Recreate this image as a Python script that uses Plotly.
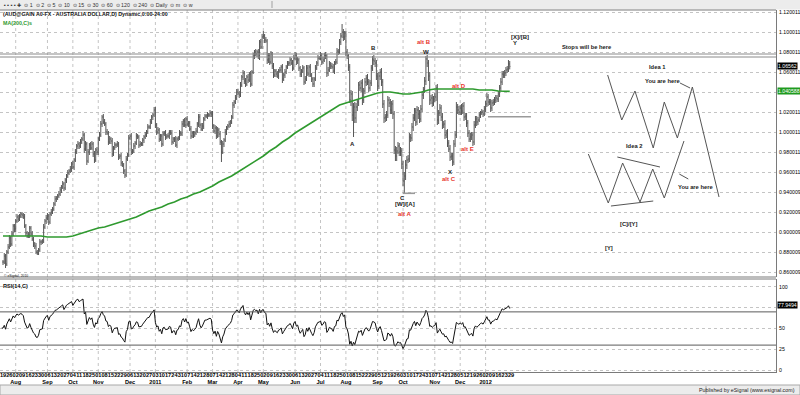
import numpy as np
import pandas as pd
import plotly.graph_objects as go

# ---------------- data ----------------
first_session = "2010-06-28"      # 15 warm-up sessions before the visible window (Jul 19 2010)
n_warmup = 15

# daily closes, in 1/10000 (pips)
close_pips = [
    8690, 8490, 8480, 8400, 8440, 8430, 8560, 8640, 8720, 8760, 8700, 8800, 8820, 8780, 8700,
    8700, 8760, 8680, 8800, 8850, 8940, 8880, 8980, 9060, 9030,
    9110, 9150, 9130, 9160, 9180, 9170, 9150, 9060, 8990, 8960,
    8970, 9040, 8980, 8930, 8880, 8860, 8800, 8790, 8820, 8900,
    8900, 8910, 9050, 9110, 9140, 9160, 9100, 9180, 9200, 9230,
    9280, 9330, 9340, 9360, 9380, 9420, 9450, 9480, 9440, 9520,
    9560, 9590, 9610, 9630, 9680, 9650, 9720, 9800, 9860, 9880,
    9860, 9900, 9930, 9970, 9830, 9880, 9710, 9800, 9870, 9840,
    9880, 9780, 9720, 9820, 9800, 9930, 9970, 10080, 10150, 10100,
    10080, 10000, 9990, 9900, 9930, 9910, 9780, 9840, 9870, 9870,
    9880, 9750, 9760, 9690, 9670, 9610, 9570, 9730, 9770, 9940,
    9960, 9800, 9810, 9860, 9890, 9960, 9950, 9870, 9880, 9880,
    9920, 9950, 9970, 10000, 10050, 10050, 10100, 10150, 10170, 10220,
    10070, 10000, 10020, 9930, 9960, 9880, 9980, 9990, 9950, 9960,
    9960, 10000, 9990, 9900, 9930, 9930, 9870, 9930, 9940, 9990,
    9980, 10080, 10110, 10070, 10130, 10080, 10090, 10030, 9960, 9990,
    9970, 9990, 10010, 10080, 10150, 10070, 10030, 10060, 10130, 10160,
    10160, 10170, 10170, 10190, 10180, 10060, 10010, 10040, 9960, 10020,
    9980, 9900, 9800, 9880, 9920, 10000, 10040, 10060, 10080, 10100,
    10150, 10270, 10300, 10340, 10400, 10390, 10370, 10470, 10550, 10590,
    10510, 10480, 10550, 10520, 10580, 10480, 10600, 10760, 10800, 10780,
    10800, 10750, 10900, 10850, 10950, 10960, 10920, 10910, 10720, 10760,
    10700, 10780, 10660, 10570, 10610, 10580, 10560, 10610, 10620, 10650,
    10530, 10570, 10600, 10650, 10680, 10690, 10720, 10690, 10640, 10740,
    10770, 10700, 10720, 10640, 10580, 10610, 10640, 10500, 10530, 10640,
    10580, 10650, 10570, 10530, 10480, 10530, 10640, 10690, 10740, 10740,
    10770, 10700, 10720, 10770, 10760, 10590, 10620, 10680, 10660, 10650,
    10610, 10690, 10700, 10810, 10800, 10900, 10960, 11000, 10950, 10990,
    10800, 10760, 10650, 10320, 10380, 10170, 10250, 10140, 10250, 10300,
    10470, 10440, 10490, 10320, 10410, 10500, 10540, 10500, 10440, 10490,
    10640, 10720, 10710, 10690, 10560, 10460, 10560, 10600, 10500, 10280,
    10140, 10150, 10170, 10320, 10290, 10220, 10280, 10180, 9820, 9760,
    9810, 9860, 9800, 9810, 9680, 9510, 9560, 9670, 9720, 9730,
    9950, 9940, 10050, 10140, 10210, 10100, 10220, 10180, 10130, 10230,
    10370, 10420, 10510, 10730, 10690, 10560, 10320, 10340, 10290, 10330,
    10350, 10440, 10120, 10190, 10240, 10150, 10070, 10080, 9970, 9990,
    9890, 9830, 9750, 9760, 9700, 9880, 9970, 10250, 10220, 10200,
    10240, 10210, 10260, 10150, 10160, 10090, 9990, 9930, 9950, 9970,
    9900, 10070, 10130, 10100, 10120, 10170, 10190, 10200, 10180, 10230,
    10280, 10350, 10300, 10300, 10240, 10290, 10300, 10320, 10340, 10330,
    10380, 10440, 10500, 10580, 10570, 10590, 10620, 10630, 10680, 10656,
]
# extension of each bar beyond its body, in units of 0.001
up_ext = [
    2, 3, 2, 2, 3, 2, 3, 2, 3, 2, 3, 2, 2, 3, 2,
    2, 3, 2, 2, 3, 3, 2, 3, 2, 2, 2, 3, 2, 2, 2, 2, 2, 3, 2, 2,
    3, 2, 2, 3, 2, 2, 3, 2, 2, 3, 2, 2, 3, 2, 3, 3, 2, 2, 3, 2,
    2, 3, 2, 2, 3, 3, 2, 3, 2, 2, 2, 3, 2, 3, 2, 3, 2, 3, 2, 3,
    2, 3, 2, 4, 2, 3, 2, 3, 2, 3, 3, 2, 3, 2, 3, 2, 3, 3, 2, 3,
    3, 2, 3, 2, 3, 2, 3, 2, 3, 2, 3, 2, 2, 3, 2, 2, 2, 3, 2, 3,
    2, 3, 2, 3, 2, 3, 2, 2, 3, 2, 2, 2, 3, 2, 3, 2, 3, 2, 2, 3,
    3, 2, 3, 2, 2, 2, 3, 2, 3, 2, 3, 2, 2, 3, 2, 2, 3, 2, 2, 3,
    2, 3, 2, 3, 2, 3, 2, 2, 3, 2, 2, 2, 3, 2, 3, 3, 2, 3, 2, 2,
    2, 3, 2, 3, 2, 3, 2, 3, 2, 3, 2, 3, 2, 3, 2, 3, 2, 2, 3, 2,
    2, 3, 2, 3, 3, 3, 2, 3, 2, 3, 2, 3, 2, 3, 2, 3, 2, 3, 2, 3,
    2, 3, 2, 3, 3, 5, 2, 3, 2, 3, 3, 3, 2, 3, 2, 2, 3, 2, 3, 2,
    3, 2, 3, 2, 3, 2, 3, 2, 3, 3, 3, 2, 3, 2, 2, 2, 3, 2, 3, 3,
    3, 2, 3, 2, 2, 2, 3, 2, 3, 2, 3, 2, 3, 2, 3, 2, 3, 3, 2, 3,
    3, 2, 3, 3, 2, 3, 3, 8, 3, 2, 2, 3, 2, 3, 4, 3, 4, 5, 4, 3,
    3, 4, 3, 4, 3, 4, 3, 4, 3, 3, 3, 4, 5, 3, 3, 3, 4, 3, 4, 3,
    4, 3, 4, 4, 3, 4, 3, 4, 3, 4, 4, 4, 3, 4, 3, 3, 4, 5, 4, 4,
    4, 3, 4, 4, 3, 3, 4, 3, 4, 4, 4, 3, 4, 3, 4, 3, 4, 3, 4, 3,
    4, 3, 4, 3, 4, 3, 4, 3, 4, 3, 4, 3, 4, 3, 3, 4, 4, 5, 3, 4,
    3, 4, 3, 4, 3, 3, 3, 3, 4, 3, 3, 4, 3, 3, 3, 3, 2, 3, 2, 3,
    3, 4, 3, 3, 3, 3, 3, 3, 3, 3, 3, 3, 4, 3, 3, 3, 3, 3, 4, 3,
]
dn_ext = [
    3, 4, 2, 3, 2, 2, 2, 3, 2, 3, 2, 3, 2, 2, 3,
    3, 2, 4, 2, 2, 2, 3, 2, 2, 3, 3, 2, 3, 2, 2, 3, 2, 2, 3, 2,
    2, 3, 2, 2, 3, 3, 2, 2, 2, 2, 3, 2, 2, 2, 3, 2, 3, 2, 2, 2,
    2, 2, 3, 2, 2, 2, 3, 2, 3, 2, 3, 2, 2, 2, 3, 2, 3, 2, 2, 3,
    3, 2, 2, 2, 4, 2, 4, 2, 3, 2, 2, 3, 3, 2, 3, 3, 2, 2, 3, 2,
    2, 3, 2, 3, 2, 3, 3, 2, 2, 3, 2, 3, 2, 3, 2, 3, 3, 2, 2, 2,
    2, 3, 2, 2, 3, 2, 2, 3, 2, 2, 2, 3, 2, 2, 2, 2, 2, 2, 3, 2,
    3, 3, 2, 3, 2, 3, 2, 2, 3, 2, 2, 3, 2, 3, 2, 3, 2, 3, 2, 2,
    2, 2, 3, 2, 3, 2, 3, 2, 3, 2, 3, 2, 2, 2, 3, 3, 2, 2, 3, 2,
    2, 3, 2, 2, 3, 3, 2, 3, 3, 2, 3, 3, 10, 2, 3, 2, 3, 2, 2, 3,
    2, 2, 3, 2, 2, 2, 3, 2, 2, 3, 3, 3, 2, 3, 2, 3, 2, 2, 3, 2,
    3, 2, 3, 2, 2, 2, 3, 2, 4, 3, 3, 2, 3, 3, 2, 3, 2, 3, 2, 3,
    4, 2, 3, 2, 2, 2, 3, 2, 3, 2, 2, 3, 2, 3, 3, 3, 2, 3, 2, 2,
    2, 3, 2, 3, 3, 3, 2, 2, 3, 2, 2, 3, 2, 2, 3, 4, 3, 2, 3, 2,
    2, 3, 2, 2, 3, 2, 3, 2, 4, 3, 4, 3, 4, 3, 6, 6, 22, 5, 5, 4,
    4, 3, 4, 5, 3, 3, 4, 3, 4, 3, 3, 3, 4, 4, 4, 5, 3, 4, 4, 4,
    5, 4, 4, 3, 4, 4, 4, 5, 4, 5, 5, 3, 4, 4, 5, 5, 12, 4, 4, 3,
    3, 4, 3, 4, 3, 4, 3, 5, 4, 3, 3, 4, 3, 4, 4, 5, 5, 4, 4, 3,
    3, 4, 5, 4, 3, 4, 4, 3, 4, 3, 4, 3, 4, 3, 4, 3, 3, 3, 4, 3,
    3, 4, 3, 4, 3, 4, 4, 3, 3, 3, 4, 3, 3, 4, 3, 2, 3, 2, 3, 2,
    3, 3, 4, 3, 4, 3, 3, 3, 3, 3, 3, 3, 3, 3, 3, 3, 3, 3, 3, 3,
]
# 200-day moving average, read once a week (session index) plus the last session
ma200_session = list(range(0, 400, 5)) + [399]
ma200 = [
    0.896, 0.896, 0.896, 0.896, 0.896, 0.896, 0.896, 0.895, 0.895, 0.895,
    0.895, 0.896, 0.898, 0.900, 0.902, 0.904, 0.905, 0.907, 0.909, 0.911,
    0.913, 0.915, 0.918, 0.921, 0.923, 0.925, 0.928, 0.930, 0.933, 0.935,
    0.938, 0.940, 0.943, 0.946, 0.950, 0.953, 0.956, 0.960, 0.964, 0.968,
    0.972, 0.976, 0.981, 0.985, 0.990, 0.994, 0.999, 1.003, 1.007, 1.011,
    1.015, 1.019, 1.023, 1.027, 1.029, 1.031, 1.033, 1.035, 1.037, 1.039,
    1.040, 1.040, 1.039, 1.038, 1.038, 1.039, 1.040, 1.042, 1.043, 1.043,
    1.043, 1.043, 1.043, 1.043, 1.043, 1.042, 1.042, 1.042, 1.041, 1.041,
    1.0406,
]
tick_labels = [
    "19", "26",
    "02", "09", "16", "23", "30", "06", "13", "20", "27", "04", "11", "18", "25",
    "01", "08", "15", "22", "29", "06", "13", "20", "27",
    "03", "10", "17", "24", "31", "07", "14", "21", "28", "07", "14", "21", "28",
    "04", "11", "18", "25", "02", "09", "16", "23", "30", "06", "13", "20", "27",
    "04", "11", "18", "25", "01", "08", "15", "22", "29", "05", "12", "19", "26",
    "03", "10", "17", "24", "31", "07", "14", "21", "28", "05", "12", "19", "26",
    "02", "09", "16", "23", "29",
]
period_labels = ["Aug", "Sep", "Oct", "Nov", "Dec", "2011", "Feb", "Mar", "Apr", "May",
                 "Jun", "Jul", "Aug", "Sep", "Oct", "Nov", "Dec", "2012"]
price_ticks = [0.86, 0.88, 0.90, 0.92, 0.94, 0.96, 0.98, 1.00, 1.02, 1.04, 1.06, 1.08, 1.10, 1.12]
price_tick_text = ["0.860009", "0.880009", "0.900009", "0.920009", "0.940009", "0.960011",
                   "0.980011", "1.000011", "1.020011", "1.040011", "1.060011", "1.080011",
                   "1.100011", "1.120011"]
rsi_ticks = [0, 25, 50, 75, 100]
rsi_tick_text = ["0", "25", "50", "", "100"]
last_price, last_price_text = 1.0656, "1.06562"
last_ma, last_ma_text = 1.0406, "1.040588"
last_rsi, last_rsi_text = 77.95, "77.9494"
rsi_levels = [70, 30]
stop_level_pair = [1.078, 1.075]

# Elliott-wave labels drawn on the chart: (text, session index, price)
wave_black = [("B", 291.6, 1.0843), ("W", 333.1, 1.0803), ("A", 275.3, 0.9877),
              ("C", 314.7, 0.9343), ("[W]/[A]", 316.5, 0.9277), ("X", 352.0, 0.960),
              ("[X]/[B]", 407.0, 1.0953), ("Y", 403.1, 1.0887)]
wave_red = [("alt B", 331.8, 1.0897), ("alt D", 359.1, 1.046), ("alt E", 365.9, 0.983),
            ("alt C", 351.2, 0.9527), ("alt A", 316.5, 0.9177)]
notes = [("Stops will be here", 459.8, 1.0853), ("Idea 1", 515.4, 1.0653),
         ("You are here", 519.5, 1.0513), ("Idea 2", 496.6, 0.9857),
         ("You are here", 545.1, 0.9447), ("[C]/[Y]", 492.4, 0.9077), ("[Y]", 477.2, 0.8843)]
idea1_path = [(476.1, 1.057), (487.2, 1.012), (497.6, 1.041), (512.0, 0.984),
              (520.7, 1.030), (531.0, 0.994), (542.8, 1.045), (563.8, 0.935)]
idea2_path = [(460.9, 0.978), (476.6, 0.929), (487.9, 0.969), (501.6, 0.930),
              (511.6, 0.963), (520.7, 0.934), (536.2, 0.991)]
drawn_segments = [((483.7, 0.975), (517.3, 0.965)), ((478.7, 0.926), (512.0, 0.931)),
                  ((533.1, 1.049), (541.0, 1.044)), ((532.5, 0.958), (539.6, 0.953))]
gray_levels = [((381.9, 415.7), 1.0153), ((314.7, 324.4), 0.9387)]

# ---------------- build ----------------
FONT = "Liberation Sans, Arial, sans-serif"
sessions = pd.bdate_range(first_session, periods=len(close_pips))
xi = np.arange(len(close_pips)) - n_warmup
c = np.array(close_pips) / 10000.0
o = np.concatenate([[c[0]], c[:-1]])
h = np.maximum(o, c) + np.array(up_ext) / 1000.0
l = np.minimum(o, c) - np.array(dn_ext) / 1000.0

# RSI(14, close), Wilder smoothing
period = 14
delta = np.diff(c)
gain = np.clip(delta, 0, None)
loss = np.clip(-delta, 0, None)
ag, al = gain[:period].mean(), loss[:period].mean()
rsi = np.full(len(c), np.nan)
rsi[period] = 100 - 100 / (1 + ag / al)
for k in range(period, len(delta)):
    ag = (ag * (period - 1) + gain[k]) / period
    al = (al * (period - 1) + loss[k]) / period
    rsi[k + 1] = 100 - 100 / (1 + ag / al)

vis = xi >= 0
fig = go.Figure()
fig.add_trace(go.Ohlc(x=xi[vis], open=o[vis], high=h[vis], low=l[vis], close=c[vis],
                      increasing=dict(line=dict(color="#565656", width=1)),
                      decreasing=dict(line=dict(color="#565656", width=1)),
                      tickwidth=0.5, xaxis="x", yaxis="y", showlegend=False, hoverinfo="skip"))
fig.add_trace(go.Scatter(x=ma200_session, y=ma200, mode="lines",
                         line=dict(color="#2f9a2f", width=1.6), xaxis="x", yaxis="y",
                         showlegend=False, hoverinfo="skip"))
fig.add_trace(go.Scatter(x=xi[period:], y=rsi[period:], mode="lines",
                         line=dict(color="#111111", width=1), xaxis="x2", yaxis="y2",
                         showlegend=False, hoverinfo="skip"))

# tick text: day of each Monday, month/year under the first one of each month
tick_pos = [5 * k for k in range(len(tick_labels))]
tick_text = []
m = 0
for k, lab in enumerate(tick_labels):
    if k > 0 and int(lab) <= 7:
        tick_text.append(lab + "<br>" + period_labels[m])
        m += 1
    else:
        tick_text.append(lab)
month_pos = [p for p, t in zip(tick_pos, tick_text) if "<br>" in t]

W, H = 800, 395
L, R, T, B = 0, 24, 10, 23
PW, PH = W - L - R, H - T - B
def py(ypix):  # pixel row -> paper y
    return (H - B - ypix) / PH
def px(xpix):
    return (xpix - L) / PW

main_dom = [py(277), 1.0]
rsi_dom = [0.0, py(279)]
x_range = [-3 / 1.27, (PW - 3) / 1.27]

axis_font = dict(family=FONT, size=5.2, color="#000000")
fig.update_layout(
    width=W, height=H, margin=dict(l=L, r=R, t=T, b=B, pad=0),
    template="none", paper_bgcolor="white", plot_bgcolor="white",
    font=dict(family=FONT, size=6, color="#000"),
    showlegend=False,
    xaxis=dict(domain=[0, 1], anchor="y", range=x_range, showticklabels=False, ticks="",
               showgrid=False, zeroline=False, showline=False, rangeslider=dict(visible=False),
               automargin=False),
    xaxis2=dict(domain=[0, 1], anchor="y2", range=x_range, matches="x", tickmode="array",
                tickvals=tick_pos, ticktext=tick_text, tickangle=0, ticks="",
                tickfont=dict(family=FONT, size=5.6, color="#000", weight="bold"),
                showgrid=False, zeroline=False, showline=True, linecolor="#7a7a7a",
                linewidth=1, automargin=False, ticklabelstandoff=-3,
                ticklabeloverflow="allow"),
    yaxis=dict(domain=main_dom, anchor="x", side="right", range=[0.855, 1.122],
               tickmode="array", tickvals=price_ticks, ticktext=price_tick_text, ticks="",
               tickfont=axis_font, showgrid=True, gridcolor="#c4c4c4", griddash="dot",
               gridwidth=1, zeroline=False, showline=True, linecolor="#7a7a7a",
               automargin=False, ticklabelstandoff=1),
    yaxis2=dict(domain=rsi_dom, anchor="x2", side="right", range=[-2.4, 109.6],
                tickmode="array", tickvals=rsi_ticks, ticktext=rsi_tick_text, ticks="",
                tickfont=axis_font, showgrid=True, gridcolor="#c4c4c4", griddash="dot",
                gridwidth=1, zeroline=False, showline=True, linecolor="#7a7a7a",
                automargin=False, ticklabelstandoff=1),
)

shapes = []
# monthly vertical grid in both panels
for p in month_pos:
    for dom in (main_dom, rsi_dom):
        shapes.append(dict(type="line", xref="x", yref="paper", x0=p, x1=p, y0=dom[0], y1=dom[1],
                           line=dict(color="#c4c4c4", width=1, dash="dot"), layer="below"))
# frame / separators
shapes += [
    dict(type="line", xref="paper", yref="paper", x0=0, x1=1, y0=1, y1=1, line=dict(color="#7a7a7a", width=1)),
    dict(type="line", xref="paper", yref="paper", x0=0, x1=1, y0=main_dom[0], y1=main_dom[0], line=dict(color="#7a7a7a", width=1)),
    dict(type="line", xref="paper", yref="paper", x0=0, x1=1, y0=rsi_dom[1], y1=rsi_dom[1], line=dict(color="#7a7a7a", width=1)),
    # toolbar band and status bar
    dict(type="rect", xref="paper", yref="paper", x0=px(0), x1=px(W), y0=py(9.5), y1=py(0),
         fillcolor="#ececec", line=dict(width=0), layer="below"),
    dict(type="line", xref="paper", yref="paper", x0=px(272), x1=px(272), y0=py(8), y1=py(1),
         line=dict(color="#a0a0a0", width=1)),
    dict(type="rect", xref="paper", yref="paper", x0=px(0), x1=px(W), y0=py(H), y1=py(385),
         fillcolor="#ececec", line=dict(color="#a8a8a8", width=1), layer="below"),
    dict(type="line", xref="paper", yref="paper", x0=px(706), x1=px(706), y0=py(394), y1=py(386),
         line=dict(color="#a8a8a8", width=1)),
]
for lev in rsi_levels:
    shapes.append(dict(type="line", xref="paper", yref="y2", x0=0, x1=1, y0=lev, y1=lev,
                       line=dict(color="#5a5a5a", width=1)))
for lev in stop_level_pair:
    shapes.append(dict(type="line", xref="paper", yref="y", x0=0, x1=1, y0=lev, y1=lev,
                       line=dict(color="#8a8a8a", width=1)))
for (xa, xb), lev in gray_levels:
    shapes.append(dict(type="line", xref="x", yref="y", x0=xa, x1=xb, y0=lev, y1=lev,
                       line=dict(color="#9a9a9a", width=1.6)))
for pts in (idea1_path, idea2_path):
    path = "M " + " L ".join(f"{a},{b}" for a, b in pts)
    shapes.append(dict(type="path", xref="x", yref="y", path=path,
                       line=dict(color="#555555", width=1)))
for (a, b) in drawn_segments:
    shapes.append(dict(type="line", xref="x", yref="y", x0=a[0], y0=a[1], x1=b[0], y1=b[1],
                       line=dict(color="#555555", width=1)))
fig.update_layout(shapes=shapes)

ann = []
def txt(text, x, y, color="#111", size=6, xref="x", yref="y", xanchor="center", bold=True, **kw):
    ann.append(dict(text=f"<b>{text}</b>" if bold else text, x=x, y=y, xref=xref, yref=yref,
                    xanchor=xanchor, yanchor="middle", showarrow=False,
                    font=dict(family=FONT, size=size, color=color), **kw))

for t_, a, b in wave_black:
    txt(t_, a, b, color="#1a1a1a")
for t_, a, b in wave_red:
    txt(t_, a, b, color="#e8342c")
for t_, a, b in notes:
    txt(t_, a, b, color="#1a1a1a", size=5.8)

txt("(AUD@GAIN A0-FX - AUSTRALIA DOLLAR,D) Dynamic,0:00-24:00", px(1), py(14), size=5.3,
    xref="paper", yref="paper", xanchor="left")
txt("MA(200,C)s", px(1), py(22.5), color="#2f9a2f", size=5.3, xref="paper", yref="paper", xanchor="left")
txt("RSI(14,C)", px(1), py(286), size=5.6, xref="paper", yref="paper", xanchor="left")
txt("\u00a9 eSignal, 2010", px(2), py(275.5), size=3.4, xref="paper", yref="paper", xanchor="left", bold=False)
txt("\u25aa \u25aa \u25aa \u25aa \u271a  \u2299 1  \u2299 2  \u2299 5  \u2299 10  \u2299 15  \u2299 30  \u2299 60  "
    "\u2299 120  \u2299 240  \u2299 Daily  \u2299 m  \u2299 w", px(2), py(4.7), size=5.3, color="#333",
    xref="paper", yref="paper", xanchor="left", bold=False)
txt("Published by eSignal (www.esignal.com)", px(797), py(390), size=5.3, color="#222",
    xref="paper", yref="paper", xanchor="right", bold=False)

# value boxes on the scales
for val, lab, bg, yr in [(last_price, last_price_text, "#000000", "y"),
                         (last_ma, last_ma_text, "#1f9a1f", "y"),
                         (last_rsi, last_rsi_text, "#000000", "y2")]:
    ann.append(dict(text=lab, x=px(777), y=val, xref="paper", yref=yr, xanchor="left",
                    yanchor="middle", showarrow=False, bgcolor=bg, borderpad=0,
                    font=dict(family=FONT, size=5.2, color="#ffffff")))
fig.update_layout(annotations=ann)

fig.write_html("out.html", config={"displayModeBar": False},
               post_script="document.body.style.margin='0px';")
